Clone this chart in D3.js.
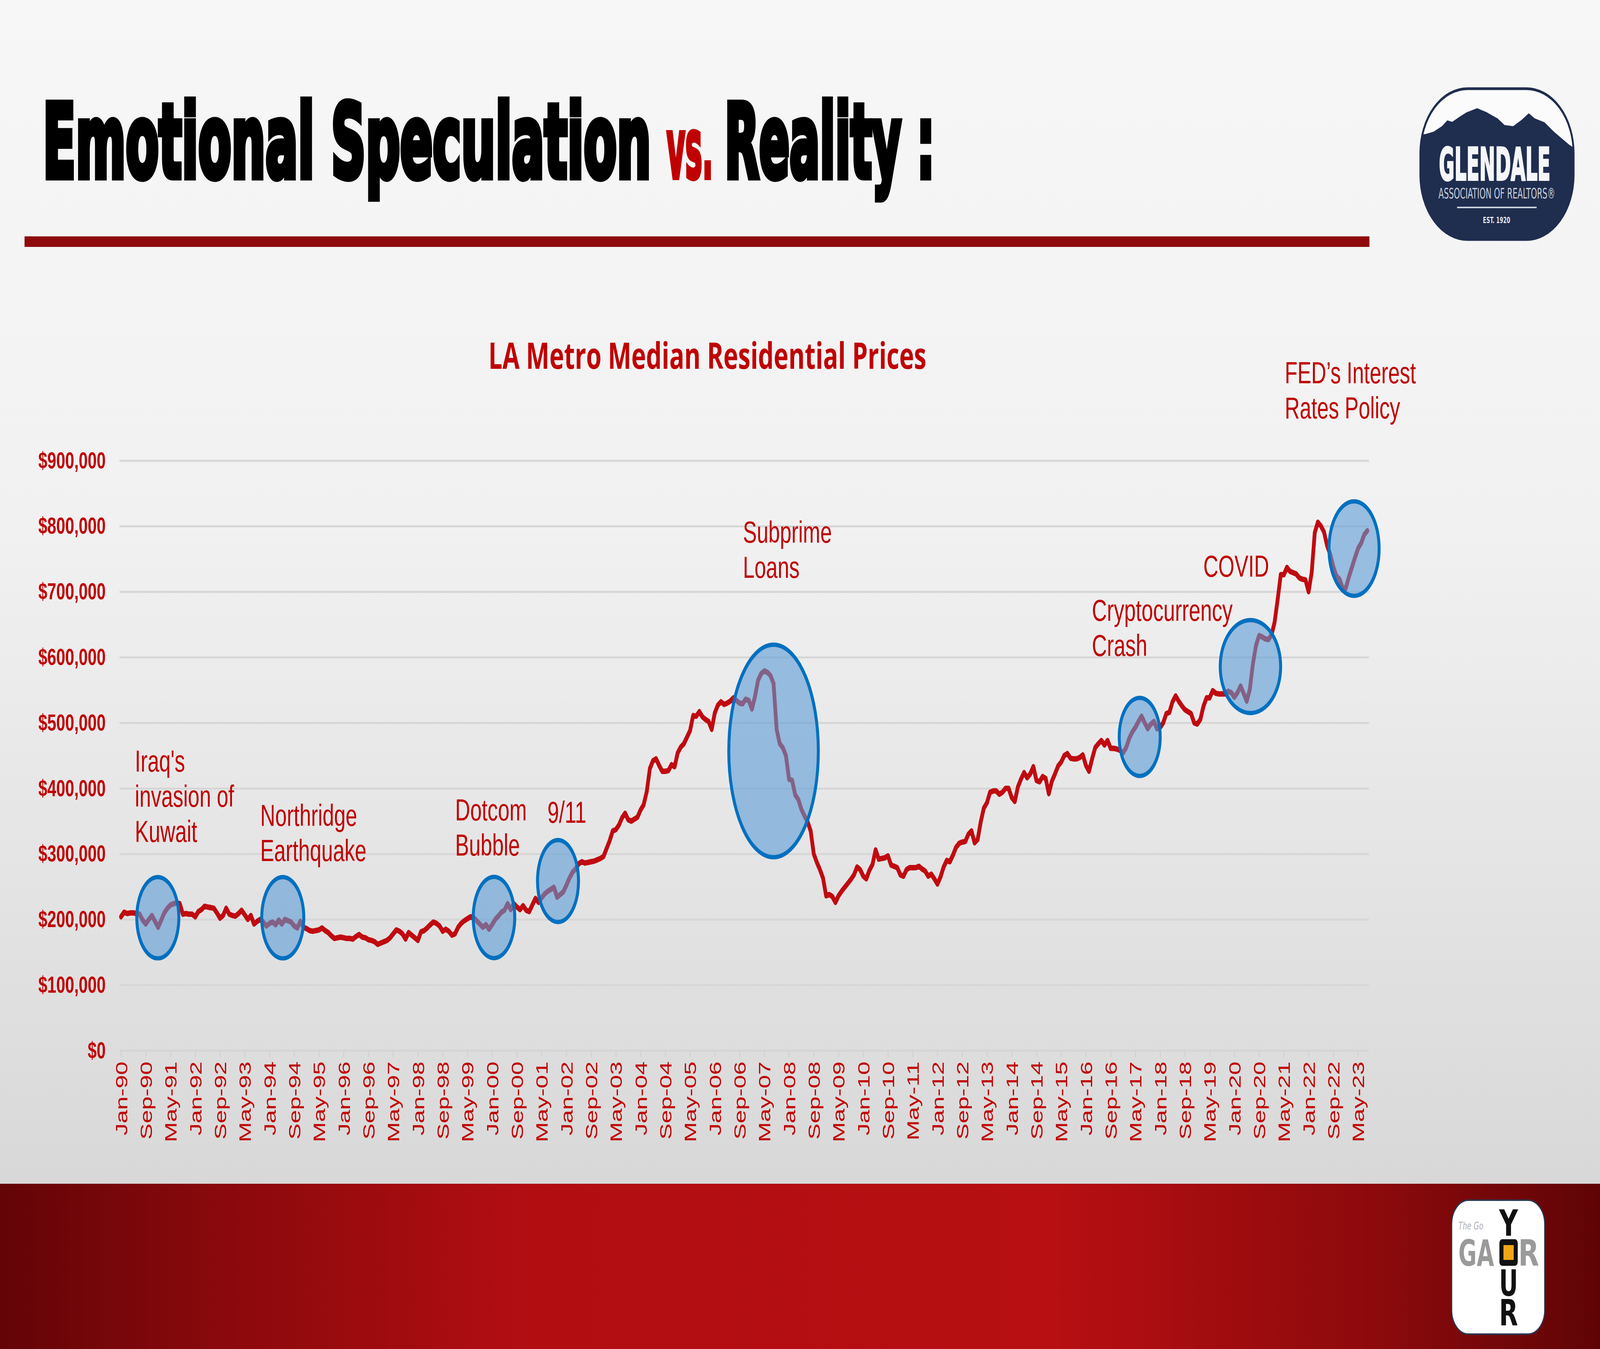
<!DOCTYPE html>
<html>
<head>
<meta charset="utf-8">
<script src="https://cdn.jsdelivr.net/npm/d3@7"></script>
<style>
  html, body { margin: 0; padding: 0; width: 100%; height: 100%; overflow: hidden; background: #efefef; }
  svg { display: block; position: absolute; left: 0; top: 0; width: 100vw; height: 100vh; }
</style>
</head>
<body>
<svg id="slide"></svg>
<script>
// LA Metro median residential price, monthly, in $ thousands
const START_MONTH = new Date(1990, 0, 1);
const PRICES = [
  // 1990
  204, 211, 209, 210, 210, 209, 208, 199, 193, 200, 206, 197,
  // 1991
  188, 199, 210, 217, 222, 224, 225, 224, 208, 209, 208, 208,
  // 1992
  204, 212, 215, 220, 219, 218, 217, 210, 202, 206, 217, 208,
  // 1993
  206, 205, 209, 214, 207, 200, 206, 193, 197, 200, 196, 190,
  // 1994
  194, 196, 192, 199, 193, 200, 198, 196, 190, 187, 197, 188,
  // 1995
  186, 183, 182, 183, 184, 187, 183, 180, 175, 171, 172, 173,
  // 1996
  172, 171, 171, 170, 174, 177, 173, 172, 169, 168, 166, 162,
  // 1997
  164, 166, 168, 172, 178, 184, 182, 178, 170, 180, 176, 172,
  // 1998
  168, 181, 183, 187, 192, 196, 194, 190, 182, 185, 182, 176,
  // 1999
  178, 188, 194, 198, 201, 204, 203, 198, 193, 188, 192, 185,
  // 2000
  192, 200, 205, 211, 214, 224, 215, 224, 219, 215, 221, 214,
  // 2001
  212, 222, 232, 226, 233, 239, 243, 246, 249, 234, 238, 242,
  // 2002
  252, 263, 272, 277, 285, 288, 286, 287, 288, 289, 291, 293,
  // 2003
  296, 308, 320, 335, 337, 344, 355, 362, 352, 350, 353, 356,
  // 2004
  367, 375, 395, 430, 442, 445, 435, 426, 426, 427, 436, 433,
  // 2005
  454, 463, 468, 478, 488, 511, 510, 517, 509, 505, 502, 490,
  // 2006
  515, 527, 532, 528, 530, 533, 538, 534, 530, 529, 536, 534,
  // 2007
  521, 540, 565, 575, 579, 577, 572, 560, 490, 468, 462, 450,
  // 2008
  414, 412, 390, 383, 368, 358, 349, 335, 300, 287, 276, 263,
  // 2009
  236, 238, 235, 226, 236, 243, 249, 255, 261, 268, 280, 276,
  // 2010
  266, 262, 275, 284, 306, 292, 293, 294, 297, 283, 281, 279,
  // 2011
  268, 266, 276, 279, 279, 279, 281, 277, 274, 266, 269, 262,
  // 2012
  254, 265, 280, 290, 288, 298, 310, 316, 318, 319, 330, 335,
  // 2013
  317, 322, 349, 370, 378, 394, 396, 396, 391, 394, 400, 400,
  // 2014
  386, 380, 402, 414, 424, 416, 422, 433, 412, 410, 418, 415,
  // 2015
  392, 411, 422, 434, 440, 450, 453, 446, 445, 445, 447, 451,
  // 2016
  435, 426, 445, 462, 468, 473, 466, 473, 461, 461, 460, 458,
  // 2017
  454, 462, 476, 486, 493, 502, 510, 500, 491, 498, 502, 491,
  // 2018
  493, 500, 514, 516, 532, 541, 533, 526, 520, 517, 514, 500,
  // 2019
  498, 505, 525, 538, 538, 549, 545, 544, 544, 544, 548, 546,
  // 2020
  539, 546, 556, 545, 533, 551, 590, 618, 633, 631, 628, 627,
  // 2021
  634, 653, 688, 726, 726, 737, 731, 729, 727, 721, 719, 718,
  // 2022
  700, 729, 790, 806, 800, 791, 770, 757, 738, 724, 719, 706,
  // 2023
  705, 722, 737, 752, 766, 774, 787, 793
];
const Y_TICKS = [0, 100000, 200000, 300000, 400000, 500000, 600000, 700000, 800000, 900000];
const LABEL_EVERY = 8; // one month label every 8 months

// event circles: centre as (month index from Jan-90, price in $)
const EVENT_NAMES = [
  ["Iraq's", "invasion of", "Kuwait"],
  ["Northridge", "Earthquake"],
  ["Dotcom", "Bubble"],
  ["9/11"],
  ["Subprime", "Loans"],
  ["Cryptocurrency", "Crash"],
  ["COVID"],
  ["FED\u2019s Interest", "Rates Policy"]
];
const EVENT_MONTH = [11.9, 52.3, 120.6, 141.3, 211, 329.4, 365.2, 398.7];
const EVENT_PRICE = [202600, 202600, 203000, 258600, 457000, 478500, 585800, 765800];

// layout (px) for the circles and their captions
const EVENT_LAYOUT = [
  { rx: 78, ry: 104, tx: 500, ty: 1975 },
  { rx: 78, ry: 104, tx: 965, ty: 2114 },
  { rx: 77, ry: 104, tx: 1688, ty: 2100 },
  { rx: 76, ry: 105, tx: 2030, ty: 2106 },
  { rx: 166, ry: 272, tx: 2755, ty: 1389 },
  { rx: 76, ry: 100, tx: 4049, ty: 1589 },
  { rx: 112, ry: 119, tx: 4462, ty: 1476 },
  { rx: 93, ry: 121, tx: 4764, ty: 981 }
];

const W = 5933, H = 3453;
const RED = '#c00000';
const plot = { left: 443, right: 5076, top: 1179, bottom: 2689 };

const MONTHS = d3.timeMonth
  .range(START_MONTH, d3.timeMonth.offset(START_MONTH, PRICES.length))
  .map(d3.timeFormat('%b-%y'));

// fixed drawing space, stretched to whatever window it is shown in
const svg = d3.select('#slide')
  .attr('viewBox', `0 0 ${W} ${H}`)
  .attr('preserveAspectRatio', 'none');

const defs = svg.append('defs');

// slide background
const bg = defs.append('linearGradient').attr('id', 'bg')
  .attr('x1', 0).attr('y1', 0).attr('x2', 0).attr('y2', 1);
bg.append('stop').attr('offset', '0').attr('stop-color', '#f7f7f7');
bg.append('stop').attr('offset', '0.45').attr('stop-color', '#f1f1f1');
bg.append('stop').attr('offset', '1').attr('stop-color', '#d8d8d8');

const band = defs.append('linearGradient').attr('id', 'band')
  .attr('x1', 0).attr('y1', 0).attr('x2', 1).attr('y2', 0);
[['0', '#630407'], ['0.14', '#8a090c'], ['0.33', '#b20e12'], ['0.66', '#b70f12'],
 ['0.86', '#8c0a0c'], ['1', '#5f0406']].forEach(([o, c]) => {
  band.append('stop').attr('offset', o).attr('stop-color', c);
});

svg.append('rect').attr('width', W).attr('height', 3030).attr('fill', 'url(#bg)');
svg.append('rect').attr('y', 3030).attr('width', W).attr('height', H - 3030).attr('fill', 'url(#band)');

// headline: heavy condensed face, thickened with a same-colour stroke
const headline = svg.append('g')
  .attr('font-family', '"DejaVu Sans Condensed", "DejaVu Sans", sans-serif')
  .attr('font-weight', 'bold')
  .attr('stroke-linejoin', 'miter');
headline.append('text')
  .attr('x', 159).attr('y', 454)
  .attr('font-size', 262)
  .attr('textLength', 2255).attr('lengthAdjust', 'spacingAndGlyphs')
  .attr('fill', '#000').attr('stroke', '#000').attr('stroke-width', 16)
  .text('Emotional Speculation');
headline.append('text')
  .attr('x', 2472).attr('y', 456)
  .attr('font-size', 215)
  .attr('textLength', 172).attr('lengthAdjust', 'spacingAndGlyphs')
  .attr('fill', RED).attr('stroke', RED).attr('stroke-width', 10)
  .text('vs.');
headline.append('text')
  .attr('x', 2687).attr('y', 454)
  .attr('font-size', 262)
  .attr('textLength', 779).attr('lengthAdjust', 'spacingAndGlyphs')
  .attr('fill', '#000').attr('stroke', '#000').attr('stroke-width', 16)
  .text('Reality :');

svg.append('rect')
  .attr('x', 91).attr('y', 605).attr('width', 4987).attr('height', 27)
  .attr('fill', '#8e0a0c');

// Glendale badge
const badge = svg.append('g');
defs.append('clipPath').attr('id', 'badge-clip')
  .append('rect')
  .attr('x', 5267).attr('y', 227).attr('width', 568).attr('height', 386)
  .attr('rx', 175).attr('ry', 165);
badge.append('rect')
  .attr('x', 5267).attr('y', 227).attr('width', 568).attr('height', 386)
  .attr('rx', 175).attr('ry', 165)
  .attr('fill', '#fbfbfb');
const ridge = [[5250, 346], [5287, 343], [5316, 337], [5347, 323], [5367, 308], [5385, 312],
  [5410, 300], [5437, 288], [5477, 277], [5512, 287], [5553, 303], [5579, 320], [5611, 323],
  [5642, 307], [5669, 290], [5691, 303], [5727, 313], [5762, 337], [5789, 353], [5818, 370],
  [5850, 385], [5850, 620], [5250, 620]];
badge.append('path')
  .attr('clip-path', 'url(#badge-clip)')
  .attr('d', d3.line()(ridge) + 'Z')
  .attr('fill', '#1f2d4e');
badge.append('rect')
  .attr('x', 5267).attr('y', 227).attr('width', 568).attr('height', 386)
  .attr('rx', 175).attr('ry', 165)
  .attr('fill', 'none').attr('stroke', '#1f2d4e').attr('stroke-width', 7);
badge.append('text')
  .attr('x', 5336).attr('y', 461)
  .attr('font-family', '"DejaVu Sans Condensed", "DejaVu Sans", sans-serif')
  .attr('font-weight', 'bold').attr('font-size', 116)
  .attr('textLength', 413).attr('lengthAdjust', 'spacingAndGlyphs')
  .attr('fill', '#f4f6f9').attr('stroke', '#f4f6f9').attr('stroke-width', 4)
  .text('GLENDALE');
badge.append('text')
  .attr('x', 5334).attr('y', 508)
  .attr('font-family', '"DejaVu Sans Condensed", "DejaVu Sans", sans-serif')
  .attr('font-size', 37)
  .attr('textLength', 433).attr('lengthAdjust', 'spacingAndGlyphs')
  .attr('fill', '#c9d1dd')
  .text('ASSOCIATION OF REALTORS\u00ae');
badge.append('rect')
  .attr('x', 5403).attr('y', 529).attr('width', 295).attr('height', 4)
  .attr('fill', '#c9d1dd');
badge.append('text')
  .attr('x', 5499).attr('y', 571)
  .attr('font-family', '"DejaVu Sans Condensed", "DejaVu Sans", sans-serif')
  .attr('font-weight', 'bold').attr('font-size', 21)
  .attr('textLength', 101).attr('lengthAdjust', 'spacingAndGlyphs')
  .attr('fill', '#e4e8ee')
  .text('EST. 1920');

// chart title
svg.append('text')
  .attr('x', 1811).attr('y', 944)
  .attr('font-family', '"Open Sans", "Noto Sans", sans-serif')
  .attr('font-weight', 'bold').attr('font-size', 94)
  .attr('textLength', 1624).attr('lengthAdjust', 'spacingAndGlyphs')
  .attr('fill', RED)
  .text('LA Metro Median Residential Prices');

// scales
const x = d3.scalePoint()
  .domain(MONTHS)
  .range([plot.left, plot.right])
  .padding(0.5);
const y = d3.scaleLinear()
  .domain([0, 900000])
  .range([plot.bottom, plot.top]);
const xAt = m => x(MONTHS[0]) + m * x.step();

// gridlines + y labels
const yAxis = svg.append('g')
  .attr('transform', `translate(${plot.left},0)`)
  .call(d3.axisLeft(y)
    .tickValues(Y_TICKS)
    .tickSize(-(plot.right - plot.left))
    .tickPadding(51)
    .tickFormat(d3.format('$,')));
yAxis.select('.domain').remove();
yAxis.selectAll('.tick line')
  .attr('stroke', '#d6d6d6')
  .attr('stroke-width', 5);
yAxis.selectAll('.tick text')
  .attr('fill', RED)
  .attr('font-family', '"Liberation Sans", Arial, sans-serif')
  .attr('font-weight', 'bold')
  .attr('font-size', 60);

// x axis: month labels every 8 months, rotated
const xAxis = svg.append('g')
  .attr('transform', `translate(0,${plot.bottom})`)
  .call(d3.axisBottom(x)
    .tickValues(MONTHS.filter((d, i) => i % LABEL_EVERY === 0))
    .tickSize(17)
    .tickSizeOuter(0));
xAxis.select('.domain').remove();
xAxis.selectAll('.tick line')
  .attr('stroke', '#cfcfcf')
  .attr('stroke-width', 3);
xAxis.selectAll('.tick text')
  .attr('transform', 'rotate(-90)')
  .attr('x', -28)
  .attr('y', 0)
  .attr('dy', '0.36em')
  .attr('text-anchor', 'end')
  .attr('fill', RED)
  .attr('font-family', '"Liberation Sans", Arial, sans-serif')
  .attr('font-size', 62);

// price line
const line = d3.line()
  .x((d, i) => x(MONTHS[i]))
  .y(d => y(d * 1000));
svg.append('path')
  .datum(PRICES)
  .attr('d', line)
  .attr('fill', 'none')
  .attr('stroke', '#c00a10')
  .attr('stroke-width', 14)
  .attr('stroke-linejoin', 'round')
  .attr('stroke-linecap', 'round');

// event circles (drawn over the line)
const events = svg.append('g').selectAll('g')
  .data(EVENT_NAMES.map((lines, i) => ({
    lines, month: EVENT_MONTH[i], price: EVENT_PRICE[i], ...EVENT_LAYOUT[i]
  })))
  .join('g');
events.append('ellipse')
  .attr('cx', d => xAt(d.month))
  .attr('cy', d => y(d.price))
  .attr('rx', d => d.rx)
  .attr('ry', d => d.ry)
  .attr('fill', 'rgba(91,155,213,0.6)')
  .attr('stroke', '#0070c0')
  .attr('stroke-width', 11);
events.append('text')
  .attr('font-family', '"Liberation Sans", Arial, sans-serif')
  .attr('font-size', 77)
  .attr('fill', RED)
  .selectAll('tspan')
  .data(d => d.lines.map((t, k) => ({ t, x: d.tx, y: d.ty + k * 90 })))
  .join('tspan')
  .attr('x', d => d.x)
  .attr('y', d => d.y)
  .text(d => d.t);

// bottom-right badge
const yb = svg.append('g');
yb.append('rect')
  .attr('x', 5383).attr('y', 3072).attr('width', 345).attr('height', 343)
  .attr('rx', 62)
  .attr('fill', '#ffffff').attr('stroke', '#2a3550').attr('stroke-width', 4);
yb.append('text')
  .attr('x', 5408).attr('y', 3147)
  .attr('font-family', '"DejaVu Sans", sans-serif')
  .attr('font-style', 'italic').attr('font-size', 26)
  .attr('fill', '#b0b0b0')
  .text('The Go');
const blockFont = '"DejaVu Sans", sans-serif';
yb.append('text')
  .attr('x', 5408).attr('y', 3240)
  .attr('font-family', blockFont).attr('font-weight', 'bold').attr('font-size', 92)
  .attr('textLength', 132).attr('lengthAdjust', 'spacingAndGlyphs')
  .attr('fill', '#9a9a9a')
  .text('GA');
yb.append('text')
  .attr('x', 5630).attr('y', 3240)
  .attr('font-family', blockFont).attr('font-weight', 'bold').attr('font-size', 92)
  .attr('textLength', 77).attr('lengthAdjust', 'spacingAndGlyphs')
  .attr('fill', '#9a9a9a')
  .text('R');
yb.append('rect')
  .attr('x', 5560).attr('y', 3172).attr('width', 68).attr('height', 68).attr('rx', 10)
  .attr('fill', '#111');
yb.append('rect')
  .attr('x', 5575).attr('y', 3187).attr('width', 38).attr('height', 38)
  .attr('fill', '#f2a516');
[['Y', 3163], ['U', 3317], ['R', 3393]].forEach(([ch, by]) => {
  yb.append('text')
    .attr('x', 5594).attr('y', by)
    .attr('text-anchor', 'middle')
    .attr('font-family', blockFont).attr('font-weight', 'bold').attr('font-size', 93)
    .attr('textLength', 70).attr('lengthAdjust', 'spacingAndGlyphs')
    .attr('fill', '#111')
    .text(ch);
});
</script>
</body>
</html>
